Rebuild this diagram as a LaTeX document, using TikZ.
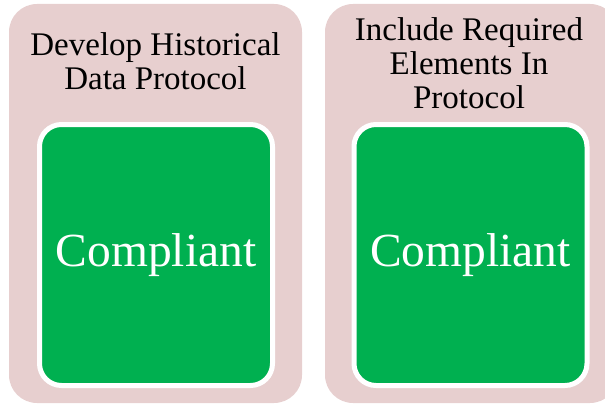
\documentclass[tikz,border=0pt]{standalone}
\usepackage{fontspec}
\setmainfont{Liberation Serif}
\definecolor{pinkbg}{RGB}{231,207,207}
\definecolor{greenbox}{RGB}{0,176,80}
\begin{document}
\begin{tikzpicture}[x=1pt,y=-1pt,
  panel/.style={fill=pinkbg, draw=none, rounded corners=28pt, minimum width=293pt, minimum height=399pt, inner sep=0pt, outer sep=0pt},
  status/.style={fill=greenbox, draw=white, line width=5pt, rounded corners=22pt, minimum width=233pt, minimum height=261pt, inner sep=0pt, text=white, font=\fontsize{47.5}{50}\selectfont},
  title/.style={align=center, anchor=base, inner sep=0pt, font=\fontsize{33}{34}\selectfont}]
\useasboundingbox (0,0) rectangle (605,404);
\node[panel] (p1) at (155.5,203.5) {};
\node[panel] (p2) at (471.5,203.5) {};
\node[title] (t1) at (155.5,89) {Develop Historical\\Data Protocol};
\node[title] (t2) at (469,108) {Include Required\\Elements In\\Protocol};
\node[status] (g1) at (156,255) {Compliant};
\node[status] (g2) at (470.5,255) {Compliant};
\end{tikzpicture}
\end{document}
